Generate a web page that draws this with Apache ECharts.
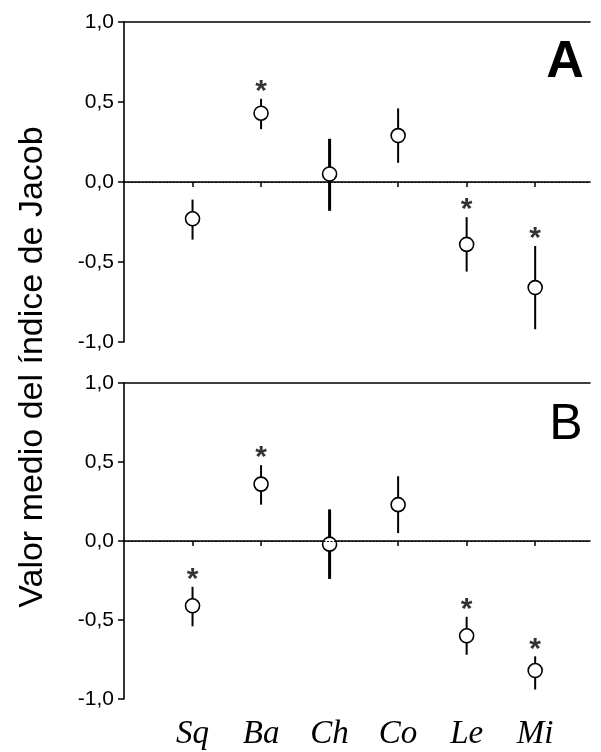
<!DOCTYPE html>
<html>
<head>
<meta charset="utf-8">
<script src="https://cdn.jsdelivr.net/npm/echarts@6/dist/echarts.min.js"></script>
<style>
  html, body { margin: 0; padding: 0; background: #fff; }
  #chart { width: 601px; height: 752px; }
</style>
</head>
<body>
<div id="chart"></div>
<script>
  // categorias (especies)
  var cats = ['Sq', 'Ba', 'Ch', 'Co', 'Le', 'Mi'];
  var yTicks = [-1, -0.5, 0, 0.5, 1];

  // panel A
  var meanA = [-0.23, 0.43, 0.05, 0.29, -0.39, -0.66];
  var lowA  = [-0.36, 0.33, -0.18, 0.12, -0.56, -0.92];
  var highA = [-0.11, 0.52, 0.27, 0.46, -0.22, -0.40];
  var sigA  = [0, 1, 0, 0, 1, 1];

  // panel B
  var meanB = [-0.41, 0.36, -0.02, 0.23, -0.60, -0.82];
  var lowB  = [-0.54, 0.23, -0.24, 0.05, -0.72, -0.94];
  var highB = [-0.29, 0.48, 0.20, 0.41, -0.48, -0.73];
  var sigB  = [1, 1, 0, 0, 1, 1];

  var catPos = cats.map(function (c, i) { return i + 1; });
  var fmt = function (v) { return v.toFixed(1).replace('.', ','); };

  function xAxes(gridIndex, showLabels) {
    return [{
      type: 'value', gridIndex: gridIndex, min: 0, max: 6.8, position: 'bottom',
      axisLine: { lineStyle: { color: '#000', width: 1.6 } },
      axisTick: { show: true, length: 5, customValues: catPos, lineStyle: { color: '#000', width: 1.5 } },
      axisLabel: {
        show: showLabels, customValues: catPos, margin: 19,
        formatter: function (v) { return cats[Math.round(v) - 1] || ''; },
        fontFamily: 'Liberation Serif', fontStyle: 'italic', fontSize: 33, color: '#000'
      },
      splitLine: { show: false }
    }, {
      type: 'value', gridIndex: gridIndex, min: 0, max: 6.8, position: 'top',
      axisLine: { lineStyle: { color: '#000', width: 1.6 } },
      axisTick: { show: false }, axisLabel: { show: false }, splitLine: { show: false }
    }];
  }

  function yAxis(gridIndex) {
    return {
      type: 'value', gridIndex: gridIndex, min: yTicks[0], max: yTicks[yTicks.length - 1], interval: 0.5,
      axisLine: { show: true, lineStyle: { color: '#000', width: 1.6 } },
      axisTick: { show: true, length: 6, lineStyle: { color: '#000', width: 1.5 } },
      axisLabel: { formatter: fmt, fontFamily: 'Liberation Sans', fontSize: 21, color: '#000', margin: 10 },
      splitLine: { show: false }
    };
  }

  function panelSeries(idx, mean, low, high, sig) {
    var xi = idx * 2;
    var bars = cats.map(function (c, i) { return [i + 1, low[i], high[i]]; });
    var pts = cats.map(function (c, i) { return [i + 1, mean[i]]; });
    var stars = [];
    sig.forEach(function (s, i) { if (s) stars.push([i + 1, high[i]]); });
    return [{
      type: 'custom', xAxisIndex: xi, yAxisIndex: idx, data: bars, z: 2,
      renderItem: function (params, api) {
        var a = api.coord([api.value(0), api.value(1)]);
        var b = api.coord([api.value(0), api.value(2)]);
        var w = cats[params.dataIndex] === 'Ch' ? 3 : 2;
        return { type: 'line', shape: { x1: a[0], y1: a[1], x2: b[0], y2: b[1] },
                 style: { stroke: '#000', lineWidth: w } };
      },
      markLine: {
        silent: true, symbol: 'none', label: { show: false },
        lineStyle: { color: '#000', type: [2, 1.5], width: 1.2 },
        data: [{ yAxis: 0 }]
      }
    }, {
      type: 'scatter', xAxisIndex: xi, yAxisIndex: idx, data: pts, z: 3,
      symbol: 'circle', symbolSize: 14,
      itemStyle: { color: '#fff', borderColor: '#000', borderWidth: 1.6, opacity: 1 }
    }, {
      type: 'scatter', xAxisIndex: xi, yAxisIndex: idx, data: stars, z: 3,
      symbolSize: 0,
      label: { show: true, position: 'top', distance: 0, offset: [0, 8], formatter: '*',
               fontFamily: 'Liberation Sans', fontWeight: 'bold', fontSize: 30, color: '#000' }
    }];
  }

  var chart = echarts.init(document.getElementById('chart'));
  chart.setOption({
    animation: false,
    backgroundColor: '#fff',
    grid: [
      { left: 124, top: 22, width: 466, height: 320 },
      { left: 124, top: 383, width: 466, height: 316 }
    ],
    xAxis: xAxes(0, false).concat(xAxes(1, true)),
    yAxis: [yAxis(0), yAxis(1)],
    series: panelSeries(0, meanA, lowA, highA, sigA).concat(panelSeries(1, meanB, lowB, highB, sigB)),
    graphic: [
      { type: 'text', x: 33, y: 367, rotation: Math.PI / 2,
        style: { text: 'Valor medio del índice de Jacob', fontFamily: 'Liberation Sans', fontSize: 34,
                 fill: '#000', align: 'center', verticalAlign: 'middle' } },
      { type: 'text', x: 565, y: 63,
        style: { text: 'A', fontFamily: 'Liberation Sans', fontSize: 52, fontWeight: 'bold',
                 fill: '#000', align: 'center', verticalAlign: 'middle' } },
      { type: 'text', x: 566, y: 425,
        style: { text: 'B', fontFamily: 'Liberation Sans', fontSize: 50,
                 fill: '#000', align: 'center', verticalAlign: 'middle' } }
    ]
  });
</script>
</body>
</html>
